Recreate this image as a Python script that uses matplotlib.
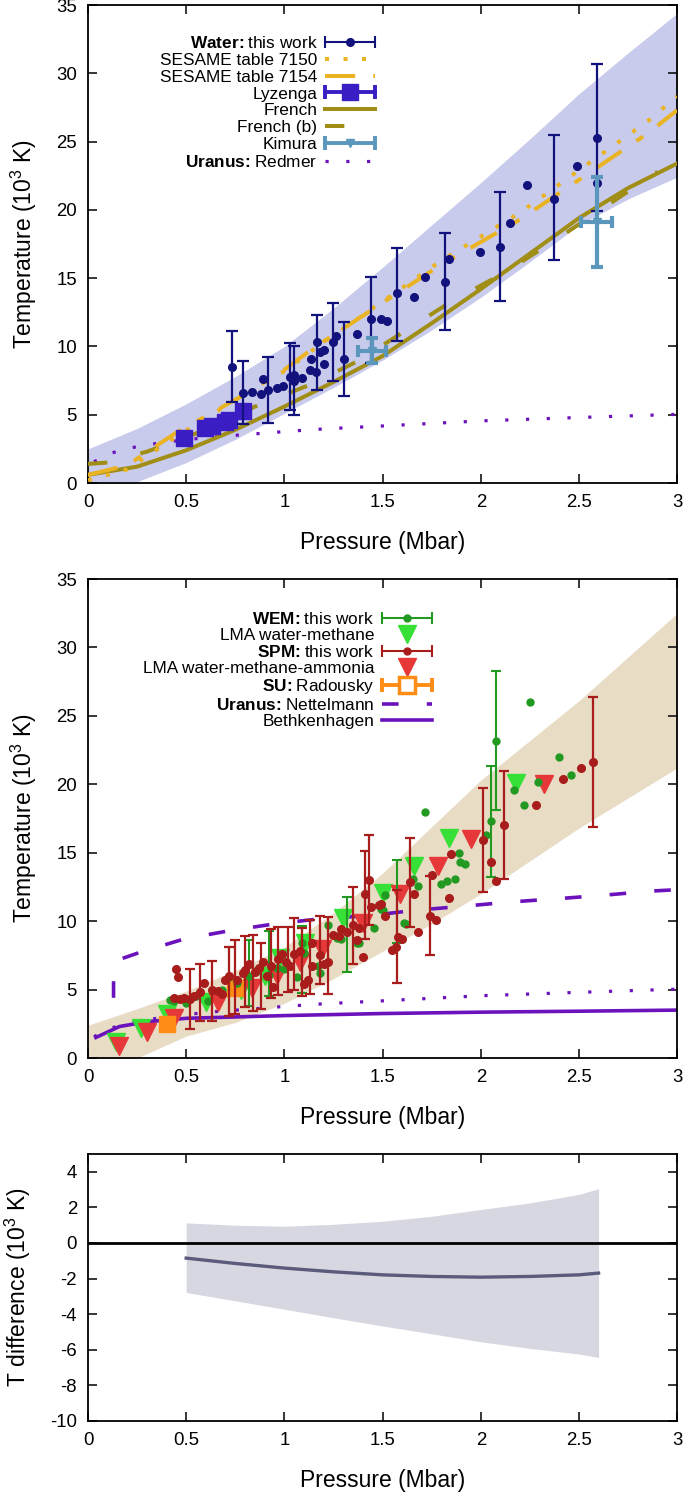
import numpy as np
import matplotlib
import matplotlib.pyplot as plt
from matplotlib.lines import Line2D
from matplotlib.legend_handler import HandlerLine2D

plt.switch_backend('Agg')

plt.rcParams['font.family'] = ['Liberation Sans', 'DejaVu Sans']
plt.rcParams['mathtext.fontset'] = 'custom'
plt.rcParams['mathtext.rm'] = 'Liberation Sans'
plt.rcParams['mathtext.bf'] = 'Liberation Sans:bold'
plt.rcParams['axes.unicode_minus'] = False

# ---------------- Top panel: water ----------------
band_top_x = [0.0, 0.25, 0.5, 0.75, 1.0, 1.25, 1.5, 1.75, 2.0, 2.25, 2.5, 2.75, 3.0]
band_top_hi = [2.5, 4.0, 5.8, 7.8, 10.0, 12.8, 15.8, 18.9, 22.0, 25.2, 28.5, 31.5, 34.4]
band_top_lo = [-1.5, 0.1, 1.5, 3.2, 5.1, 7.0, 9.0, 11.2, 13.6, 16.2, 18.9, 20.8, 22.4]

french_x = [0.0, 0.25, 0.5, 0.75, 1.0, 1.25, 1.5, 1.75, 2.0, 2.25, 2.5, 2.75, 3.0]
french_t = [0.6, 1.2, 2.4, 3.9, 5.6, 7.4, 9.3, 11.7, 14.2, 16.8, 19.4, 21.6, 23.4]

french_b_x = [0.0, 0.1, 0.3, 0.6, 0.85, 1.13, 1.37, 1.84, 2.12, 2.37, 2.61, 2.9]
french_b_t = [1.4, 1.5, 2.3, 3.9, 5.6, 7.2, 8.9, 13.2, 15.4, 17.7, 20.0, 22.8]

sesame_x = [0.0, 0.2, 0.45, 0.65, 0.8, 1.0, 1.15, 1.5, 1.8, 2.2, 2.5, 2.85, 3.0]
sesame7154_t = [0.6, 1.3, 3.7, 5.3, 6.5, 8.3, 9.9, 13.2, 16.0, 19.3, 22.2, 25.6, 27.3]
sesame7150_t = [0.2, 1.0, 3.4, 5.2, 6.5, 8.2, 9.8, 13.3, 16.3, 19.8, 22.9, 26.5, 28.3]

redmer_x = [0.03, 0.12, 0.21, 0.3, 0.48, 0.66, 0.85, 1.03, 1.21, 1.49, 2.0, 2.5, 3.0]
redmer_t = [1.56, 2.2, 2.55, 2.8, 3.15, 3.4, 3.6, 3.8, 3.97, 4.17, 4.55, 4.8, 5.03]

water_x = [0.733, 0.789, 0.835, 0.88, 0.89, 0.915, 0.963, 0.993, 1.027, 1.05, 1.05,
           1.09, 1.13, 1.136, 1.16, 1.166, 1.18, 1.2, 1.2, 1.248, 1.265, 1.306, 1.37,
           1.44, 1.49, 1.524, 1.575, 1.66, 1.717, 1.816, 1.84, 1.995, 2.097, 2.147,
           2.237, 2.374, 2.49, 2.59, 2.59]
water_t = [8.5, 6.6, 6.7, 6.5, 7.6, 6.8, 6.95, 7.1, 7.8, 7.9, 7.5,
           7.66, 8.27, 9.1, 8.1, 10.3, 9.57, 9.74, 8.7, 10.3, 10.76, 9.08, 10.9,
           12.0, 12.0, 11.9, 13.9, 13.6, 15.06, 14.7, 16.4, 16.9, 17.3, 19.05,
           21.8, 20.8, 23.2, 25.3, 22.0]
water_eb_x = [0.733, 0.789, 0.915, 1.027, 1.05, 1.166, 1.248, 1.306, 1.44, 1.575, 1.816, 2.097, 2.374, 2.59]
water_eb_t = [8.5, 6.6, 6.8, 7.8, 7.5, 9.55, 10.35, 9.08, 11.95, 13.8, 14.75, 17.3, 20.9, 25.3]
water_eb_e = [2.6, 2.3, 2.4, 2.45, 2.5, 2.77, 2.85, 2.7, 3.15, 3.4, 3.55, 4.0, 4.6, 5.4]

lyzenga_x = [0.49, 0.595, 0.63, 0.70, 0.72, 0.79]
lyzenga_t = [3.3, 4.0, 4.15, 4.5, 4.6, 5.3]

kimura_x = [1.447, 2.59]
kimura_t = [9.7, 19.1]
kimura_xerr = [0.07, 0.08]
kimura_terr = [0.9, 3.3]

# ---------------- Middle panel: mixtures ----------------
band_mid_x = [0.0, 0.25, 0.5, 0.75, 1.0, 1.25, 1.5, 1.75, 2.0, 2.25, 2.5, 2.75, 3.0]
band_mid_hi = [2.4, 3.6, 4.9, 6.4, 8.1, 10.6, 13.5, 16.9, 20.3, 23.2, 26.1, 29.3, 32.5]
band_mid_lo = [-0.6, 0.0, 1.6, 2.6, 4.0, 5.8, 7.8, 9.8, 12.0, 14.4, 16.8, 19.0, 21.2]

nettelmann_x = [0.13, 0.13, 0.16, 0.26, 0.49, 0.72, 0.95, 1.2, 1.43, 1.67, 1.92, 2.15, 2.4, 2.63, 2.87, 3.0]
nettelmann_t = [4.4, 6.9, 7.2, 7.7, 8.7, 9.3, 9.8, 10.2, 10.4, 10.8, 11.1, 11.4, 11.65, 11.9, 12.2, 12.3]

bethkenhagen_x = [0.04, 0.16, 0.3, 0.5, 1.0, 1.5, 2.0, 2.5, 3.0]
bethkenhagen_t = [1.5, 2.3, 2.65, 2.9, 3.1, 3.25, 3.35, 3.42, 3.5]

lma_wm_x = [0.14, 0.27, 0.40, 0.60, 0.78, 0.90, 0.98, 1.107, 1.30, 1.50, 1.66, 1.84, 2.18]
lma_wm_t = [1.2, 2.2, 3.2, 4.1, 5.0, 6.0, 7.3, 8.4, 10.2, 12.05, 14.0, 16.05, 20.1]
lma_wma_x = [0.16, 0.30, 0.44, 0.66, 0.835, 0.96, 1.08, 1.19, 1.40, 1.59, 1.78, 1.95, 2.32]
lma_wma_t = [0.9, 1.9, 2.9, 4.1, 5.1, 6.1, 7.0, 8.0, 9.9, 12.0, 14.0, 16.0, 20.0]

radousky_x = [0.40, 0.75]
radousky_t = [2.5, 5.1]

wem_x = [0.42, 0.44, 0.50, 0.55, 0.61, 0.68, 0.72, 0.76, 0.82, 0.86, 0.92, 0.96, 1.00,
         1.065, 1.09, 1.10, 1.17, 1.18, 1.22, 1.27, 1.29, 1.37, 1.38, 1.456, 1.49, 1.50,
         1.51, 1.61, 1.62, 1.655, 1.68, 1.715, 1.80, 1.83, 1.87, 1.89, 1.895, 1.92,
         2.025, 2.05, 2.077, 2.17, 2.22, 2.25, 2.29, 2.40, 2.46]
wem_t = [4.24, 4.2, 4.0, 4.5, 4.2, 5.0, 5.9, 5.5, 6.0, 6.4, 6.1, 6.6, 6.5,
         5.9, 8.4, 7.7, 6.7, 6.2, 9.7, 8.8, 8.7, 8.4, 8.4, 9.5, 10.9, 10.8,
         11.9, 9.9, 9.8, 13.1, 12.6, 18.0, 12.7, 12.9, 13.1, 15.0, 14.3, 14.2,
         16.3, 17.3, 23.2, 19.6, 18.5, 26.0, 20.2, 22.0, 20.7]
wem_eb_x = [0.72, 0.82, 0.92, 1.09, 1.32, 1.575, 2.05, 2.077]
wem_eb_t = [5.6, 6.2, 6.9, 7.2, 9.05, 11.45, 17.3, 23.2]
wem_eb_e = [2.5, 2.4, 2.4, 2.45, 2.75, 3.05, 4.05, 5.1]

spm_x = [0.45, 0.46, 0.44, 0.47, 0.49, 0.52, 0.54, 0.57, 0.59, 0.63, 0.66, 0.68, 0.70,
         0.72, 0.76, 0.79, 0.80, 0.82, 0.85, 0.87, 0.89, 0.91, 0.93, 0.94, 0.97, 0.99,
         1.01, 1.03, 1.05, 1.08, 1.10, 1.12, 1.14, 1.14, 1.18, 1.20, 1.22, 1.25, 1.28,
         1.29, 1.32, 1.35, 1.37, 1.38, 1.40, 1.41, 1.43, 1.44, 1.48, 1.49, 1.51, 1.55,
         1.57, 1.58, 1.60, 1.64, 1.66, 1.68, 1.74, 1.75, 1.77, 1.84, 1.85, 2.01, 2.05,
         2.08, 2.12, 2.28, 2.42, 2.51, 2.57]
spm_t = [6.5, 5.9, 4.4, 4.3, 4.4, 4.3, 4.5, 4.8, 5.5, 5.0, 4.9, 4.7, 5.7,
         6.0, 5.7, 6.2, 6.4, 6.9, 6.3, 6.6, 7.0, 6.0, 6.7, 5.2, 7.2, 7.6,
         7.0, 6.7, 7.6, 7.8, 5.4, 5.7, 8.4, 6.7, 7.5, 6.9, 7.0, 9.0, 8.9,
         9.4, 9.2, 9.7, 8.6, 9.5, 7.4, 12.0, 13.0, 11.0, 11.2, 11.25, 10.4, 7.9,
         8.1, 8.85, 8.7, 12.85, 12.0, 9.2, 10.4, 13.4, 10.1, 11.7, 14.9, 15.9, 14.3,
         12.9, 17.0, 18.5, 20.4, 21.2, 21.6]
spm_eb_x = [0.52, 0.57, 0.63, 0.72, 0.75, 0.80, 0.84, 0.88, 0.93, 0.97, 1.02, 1.05, 1.09,
            1.13, 1.18, 1.22, 1.35, 1.41, 1.43, 1.575, 1.64, 1.74, 2.01, 2.12, 2.57]
spm_eb_t = [4.3, 4.8, 4.9, 5.6, 5.9, 6.3, 6.2, 6.0, 6.9, 7.1, 7.2, 7.6, 7.0,
            7.4, 7.9, 7.5, 9.7, 11.9, 13.0, 8.9, 12.85, 10.4, 15.9, 17.0, 21.6]
spm_eb_e = [2.2, 2.1, 2.2, 2.5, 2.7, 2.6, 2.8, 2.4, 2.5, 2.5, 2.4, 2.6, 2.5,
            2.7, 2.5, 2.8, 2.8, 3.2, 3.3, 3.4, 3.25, 2.9, 3.8, 3.95, 4.75]

# ---------------- Bottom panel: difference ----------------
diff_x = [0.5, 0.75, 1.0, 1.25, 1.5, 1.75, 2.0, 2.25, 2.5, 2.6]
diff_mean = [-0.85, -1.15, -1.41, -1.62, -1.79, -1.88, -1.92, -1.88, -1.79, -1.69]
diff_hi = [1.13, 1.0, 0.94, 1.05, 1.22, 1.5, 1.88, 2.25, 2.73, 3.05]
diff_lo = [-2.78, -3.25, -3.72, -4.2, -4.66, -5.1, -5.55, -5.92, -6.24, -6.43]

x_ticks = [0, 0.5, 1, 1.5, 2, 2.5, 3]
x_tick_labels = ['0', '0.5', '1', '1.5', '2', '2.5', '3']
t_ticks = [0, 5, 10, 15, 20, 25, 30, 35]
d_ticks = [-10, -8, -6, -4, -2, 0, 2, 4]

# colours
NAVY = '#12127c'
GOLD = '#e9b324'
LYZ = '#3a1ec4'
OLIVE = '#a08e16'
KIM = '#5b97bd'
PURPLE = '#6c12bc'
BAND1 = '#c9cbec'
BAND2 = '#e8dcc5'
WEM = '#229a22'
LMAG = '#36e036'
SPM = '#a81c1c'
LMAR = '#e63838'
ORANGE = '#ff8c14'

FS_TICK = 13.4
FS_LAB = 16.5
FS_LEG = 12.4

DASH_7154 = (7.5, 4.5, 2, 4.5)
DASH_FRB = (4.8, 8.5)
DOT_7150 = (1, 3.6)
DOT_REDMER = (1, 5.5)
DASH_NETT = (4.6, 7.8)


def style_axes(ax, ylim, yticks, ylabel):
    ax.set_xlim(0, 3)
    ax.set_ylim(*ylim)
    ax.set_xticks(x_ticks)
    ax.set_xticklabels(x_tick_labels)
    ax.set_yticks(yticks)
    ax.tick_params(direction='in', top=True, right=True, length=6.5, width=1.1,
                   labelsize=FS_TICK, pad=8)
    for s in ax.spines.values():
        s.set_linewidth(1.3)
    ax.set_xlabel('Pressure (Mbar)', fontsize=FS_LAB, labelpad=14)
    ax.set_ylabel(ylabel, fontsize=FS_LAB, labelpad=12)


def cap_line(color, lw, ms):
    return Line2D([], [], color=color, lw=lw, marker='|', markersize=ms, markeredgewidth=lw)


def bold_label(head, rest):
    return r'$\bf{' + head + r'\!:}$' + rest


fig = plt.figure(figsize=(6.85, 14.95), dpi=100)
ax1 = fig.add_axes([0.1285, 0.6769, 0.860, 0.3197])
ax2 = fig.add_axes([0.1285, 0.2923, 0.860, 0.3204])
ax3 = fig.add_axes([0.1285, 0.0495, 0.860, 0.1786])

# ---- top panel
ax1.fill_between(band_top_x, band_top_lo, band_top_hi, color=BAND1, lw=0, zorder=1)
ax1.plot(redmer_x, redmer_t, color=PURPLE, lw=2.3, dashes=DOT_REDMER, zorder=2)
ax1.plot(french_x, french_t, color=OLIVE, lw=2.9, zorder=3)
ax1.plot(french_b_x, french_b_t, color=OLIVE, lw=2.9, dashes=DASH_FRB, zorder=3)
ax1.plot(sesame_x, sesame7150_t, color=GOLD, lw=2.9, dashes=DOT_7150, zorder=3)
ax1.plot(sesame_x, sesame7154_t, color=GOLD, lw=2.9, dashes=DASH_7154, zorder=3)
ax1.errorbar(lyzenga_x, lyzenga_t, xerr=0.02, fmt='s', color=LYZ, ms=11, elinewidth=2.5,
             capsize=3, zorder=4)
ax1.errorbar(water_eb_x, water_eb_t, yerr=water_eb_e, fmt='none', ecolor=NAVY,
             elinewidth=1.6, capsize=4, capthick=1.6, zorder=5)
ax1.plot(water_x, water_t, 'o', color=NAVY, ms=5.5, zorder=5)
ax1.errorbar(kimura_x, kimura_t, xerr=kimura_xerr, yerr=kimura_terr, fmt='v', color=KIM,
             ms=6, elinewidth=3, capsize=4, capthick=3, zorder=6)

cap_w = cap_line(NAVY, 1.5, 8)
cap_l = cap_line(LYZ, 2.8, 10)
cap_k = cap_line(KIM, 2.8, 10)
top_handles = [
    (cap_w, Line2D([], [], color=NAVY, marker='o', ms=5.5, ls='none')),
    Line2D([], [], color=GOLD, lw=2.9, dashes=DOT_7150),
    Line2D([], [], color=GOLD, lw=2.9, dashes=DASH_7154),
    (cap_l, Line2D([], [], color=LYZ, marker='s', ms=11, ls='none')),
    Line2D([], [], color=OLIVE, lw=2.9),
    Line2D([], [], color=OLIVE, lw=2.9, dashes=DASH_FRB),
    (cap_k, Line2D([], [], color=KIM, marker='v', ms=6, ls='none')),
    Line2D([], [], color=PURPLE, lw=2.3, dashes=DOT_REDMER),
]
top_labels = [bold_label('Water', 'this work'), 'SESAME table 7150', 'SESAME table 7154',
              'Lyzenga', 'French', 'French (b)', 'Kimura', bold_label('Uranus', 'Redmer')]
hm = {h: HandlerLine2D(numpoints=2, marker_pad=0) for h in (cap_w, cap_l, cap_k)}
ax1.legend(top_handles, top_labels, handler_map=hm, loc='upper right',
           bbox_to_anchor=(0.487, 0.937), frameon=False, markerfirst=False,
           fontsize=FS_LEG, handlelength=2.9, handletextpad=0.45, labelspacing=0.1,
           borderpad=0, borderaxespad=0, numpoints=1)
style_axes(ax1, (0, 35), t_ticks, 'Temperature (10$^3$ K)')

# ---- middle panel
ax2.fill_between(band_mid_x, band_mid_lo, band_mid_hi, color=BAND2, lw=0, zorder=1)
ax2.plot(redmer_x, redmer_t, color=PURPLE, lw=2.3, dashes=DOT_REDMER, zorder=2)
ax2.plot(nettelmann_x, nettelmann_t, color=PURPLE, lw=2.6, dashes=DASH_NETT, zorder=2)
ax2.plot(bethkenhagen_x, bethkenhagen_t, color=PURPLE, lw=2.6, zorder=2)
ax2.plot(lma_wm_x, lma_wm_t, 'v', color=LMAG, ms=13, zorder=3)
ax2.plot(lma_wma_x, lma_wma_t, 'v', color=LMAR, ms=13, zorder=3)
ax2.errorbar(radousky_x, radousky_t, xerr=0.03, yerr=0.3, fmt='s', color=ORANGE, ms=12,
             elinewidth=2.5, capsize=3, zorder=4)
ax2.errorbar(wem_eb_x, wem_eb_t, yerr=wem_eb_e, fmt='none', ecolor=WEM, elinewidth=1.5,
             capsize=3.5, capthick=1.5, zorder=5)
ax2.plot(wem_x, wem_t, 'o', color=WEM, ms=5, zorder=5)
ax2.errorbar(spm_eb_x, spm_eb_t, yerr=spm_eb_e, fmt='none', ecolor=SPM, elinewidth=1.6,
             capsize=3.5, capthick=1.6, zorder=6)
ax2.plot(spm_x, spm_t, 'o', color=SPM, ms=5.5, zorder=6)

cap_g = cap_line(WEM, 1.5, 8)
cap_r = cap_line(SPM, 1.5, 8)
cap_o = cap_line(ORANGE, 2.8, 10)
mid_handles = [
    (cap_g, Line2D([], [], color=WEM, marker='o', ms=5, ls='none')),
    Line2D([], [], color=LMAG, marker='v', ms=13, ls='none'),
    (cap_r, Line2D([], [], color=SPM, marker='o', ms=5, ls='none')),
    Line2D([], [], color=LMAR, marker='v', ms=13, ls='none'),
    (cap_o, Line2D([], [], color=ORANGE, marker='s', ms=11, mfc='white', mew=2.5, ls='none')),
    Line2D([], [], color=PURPLE, lw=2.6, dashes=DASH_NETT),
    Line2D([], [], color=PURPLE, lw=2.6),
]
mid_labels = [bold_label('WEM', 'this work'), 'LMA water-methane', bold_label('SPM', 'this work'),
              'LMA water-methane-ammonia', bold_label('SU', 'Radousky'),
              bold_label('Uranus', 'Nettelmann'), 'Bethkenhagen']
hm2 = {h: HandlerLine2D(numpoints=2, marker_pad=0) for h in (cap_g, cap_r, cap_o)}
ax2.legend(mid_handles, mid_labels, handler_map=hm2, loc='upper right',
           bbox_to_anchor=(0.584, 0.934), frameon=False, markerfirst=False,
           fontsize=FS_LEG, handlelength=2.9, handletextpad=0.45, labelspacing=0.06,
           borderpad=0, borderaxespad=0, numpoints=1)
style_axes(ax2, (0, 35), t_ticks, 'Temperature (10$^3$ K)')

# ---- bottom panel
ax3.fill_between(diff_x, diff_lo, diff_hi, color='#d6d7e0', lw=0, zorder=1)
ax3.axhline(0, color='black', lw=2, zorder=2)
ax3.plot(diff_x, diff_mean, color='#5a5a7c', lw=2.4, zorder=3)
style_axes(ax3, (-10, 5), d_ticks, 'T difference (10$^3$ K)')

fig.savefig('out.png', dpi=100)
